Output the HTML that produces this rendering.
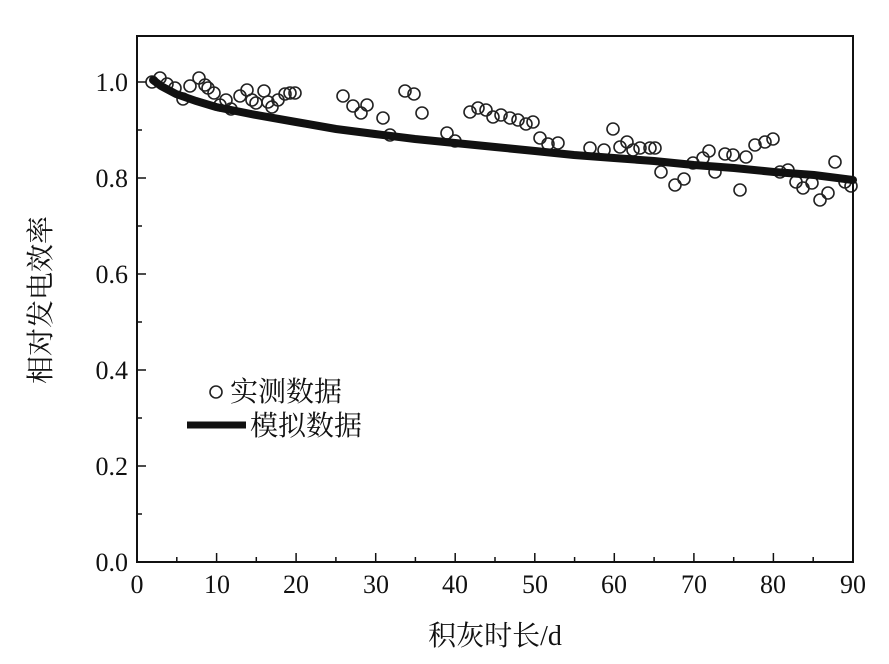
<!DOCTYPE html>
<html><head><meta charset="utf-8"><style>body{margin:0;background:#fff}</style></head><body>
<svg width="889" height="659" xmlns="http://www.w3.org/2000/svg" font-family="'Liberation Serif','Noto Serif CJK SC',serif">
<rect width="889" height="659" fill="#fff"/>
<g fill="none" stroke="#222" stroke-width="1.6">
<circle cx="152" cy="82" r="6"/><circle cx="160" cy="78" r="6"/><circle cx="167" cy="84" r="6"/><circle cx="175" cy="88" r="6"/><circle cx="183" cy="99" r="6"/><circle cx="190" cy="86" r="6"/><circle cx="199" cy="78" r="6"/><circle cx="205" cy="85" r="6"/><circle cx="208" cy="88" r="6"/><circle cx="214" cy="93" r="6"/><circle cx="220" cy="105" r="6"/><circle cx="231" cy="109" r="6"/><circle cx="226" cy="100" r="6"/><circle cx="240" cy="96" r="6"/><circle cx="247" cy="90" r="6"/><circle cx="252" cy="100" r="6"/><circle cx="256" cy="103" r="6"/><circle cx="264" cy="91" r="6"/><circle cx="268" cy="102" r="6"/><circle cx="272" cy="107" r="6"/><circle cx="278" cy="100" r="6"/><circle cx="285" cy="94" r="6"/><circle cx="290" cy="93" r="6"/><circle cx="295" cy="93" r="6"/><circle cx="343" cy="96" r="6"/><circle cx="353" cy="106" r="6"/><circle cx="361" cy="113" r="6"/><circle cx="367" cy="105" r="6"/><circle cx="383" cy="118" r="6"/><circle cx="390" cy="135" r="6"/><circle cx="405" cy="91" r="6"/><circle cx="414" cy="94" r="6"/><circle cx="422" cy="113" r="6"/><circle cx="447" cy="133" r="6"/><circle cx="455" cy="141" r="6"/><circle cx="470" cy="112" r="6"/><circle cx="478" cy="108" r="6"/><circle cx="486" cy="110" r="6"/><circle cx="493" cy="117" r="6"/><circle cx="501" cy="115" r="6"/><circle cx="510" cy="118" r="6"/><circle cx="518" cy="120" r="6"/><circle cx="526" cy="124" r="6"/><circle cx="533" cy="122" r="6"/><circle cx="540" cy="138" r="6"/><circle cx="548" cy="144" r="6"/><circle cx="558" cy="143" r="6"/><circle cx="590" cy="148" r="6"/><circle cx="604" cy="150" r="6"/><circle cx="613" cy="129" r="6"/><circle cx="620" cy="147" r="6"/><circle cx="627" cy="142" r="6"/><circle cx="633" cy="150" r="6"/><circle cx="640" cy="148" r="6"/><circle cx="650" cy="148" r="6"/><circle cx="655" cy="148" r="6"/><circle cx="661" cy="172" r="6"/><circle cx="675" cy="185" r="6"/><circle cx="684" cy="179" r="6"/><circle cx="693" cy="163" r="6"/><circle cx="703" cy="158" r="6"/><circle cx="709" cy="151" r="6"/><circle cx="715" cy="172" r="6"/><circle cx="725" cy="154" r="6"/><circle cx="740" cy="190" r="6"/><circle cx="733" cy="155" r="6"/><circle cx="746" cy="157" r="6"/><circle cx="755" cy="145" r="6"/><circle cx="765" cy="142" r="6"/><circle cx="773" cy="139" r="6"/><circle cx="780" cy="172" r="6"/><circle cx="788" cy="170" r="6"/><circle cx="796" cy="182" r="6"/><circle cx="803" cy="188" r="6"/><circle cx="812" cy="183" r="6"/><circle cx="820" cy="200" r="6"/><circle cx="828" cy="193" r="6"/><circle cx="835" cy="162" r="6"/><circle cx="845" cy="182" r="6"/><circle cx="851" cy="186" r="6"/>
</g>
<polyline fill="none" stroke="#111" stroke-width="8" stroke-linecap="round" points="153,80 161,86 176,94 196,101 216,107 256,115 296,122 336,129 375,134 415,139 455,143 495,147 535,151 574,155 614,158 654,161 694,165 734,168 774,172 814,175 853,180"/>
<rect x="137" y="36" width="716" height="526" fill="none" stroke="#111" stroke-width="2"/>
<g stroke="#111" stroke-width="1.5">
<line x1="176.8" y1="562" x2="176.8" y2="557"/><line x1="216.6" y1="562" x2="216.6" y2="553"/><line x1="256.3" y1="562" x2="256.3" y2="557"/><line x1="296.1" y1="562" x2="296.1" y2="553"/><line x1="335.9" y1="562" x2="335.9" y2="557"/><line x1="375.7" y1="562" x2="375.7" y2="553"/><line x1="415.4" y1="562" x2="415.4" y2="557"/><line x1="455.2" y1="562" x2="455.2" y2="553"/><line x1="495" y1="562" x2="495" y2="557"/><line x1="534.8" y1="562" x2="534.8" y2="553"/><line x1="574.6" y1="562" x2="574.6" y2="557"/><line x1="614.3" y1="562" x2="614.3" y2="553"/><line x1="654.1" y1="562" x2="654.1" y2="557"/><line x1="693.9" y1="562" x2="693.9" y2="553"/><line x1="733.7" y1="562" x2="733.7" y2="557"/><line x1="773.4" y1="562" x2="773.4" y2="553"/><line x1="813.2" y1="562" x2="813.2" y2="557"/>
<line x1="137" y1="514" x2="142" y2="514"/><line x1="137" y1="466" x2="146" y2="466"/><line x1="137" y1="418" x2="142" y2="418"/><line x1="137" y1="370" x2="146" y2="370"/><line x1="137" y1="322" x2="142" y2="322"/><line x1="137" y1="274" x2="146" y2="274"/><line x1="137" y1="226" x2="142" y2="226"/><line x1="137" y1="178" x2="146" y2="178"/><line x1="137" y1="130" x2="142" y2="130"/><line x1="137" y1="82" x2="146" y2="82"/>
</g>
<g font-size="26" fill="#111" text-anchor="end">
<text x="128" y="571">0.0</text><text x="128" y="475">0.2</text><text x="128" y="379">0.4</text><text x="128" y="283">0.6</text><text x="128" y="187">0.8</text><text x="128" y="91">1.0</text>
</g>
<g font-size="26" fill="#111" text-anchor="middle">
<text x="137" y="593">0</text><text x="217" y="593">10</text><text x="296" y="593">20</text><text x="376" y="593">30</text><text x="455" y="593">40</text><text x="535" y="593">50</text><text x="614" y="593">60</text><text x="694" y="593">70</text><text x="773" y="593">80</text><text x="853" y="593">90</text>
</g>
<text x="495" y="645" font-size="28" text-anchor="middle" fill="#111">积灰时长/d</text>
<text transform="translate(50,300) rotate(-90)" font-size="28" text-anchor="middle" fill="#111">相对发电效率</text>
<circle cx="216" cy="392" r="6" fill="none" stroke="#222" stroke-width="1.6"/>
<text x="230" y="401" font-size="28" fill="#111">实测数据</text>
<line x1="187" y1="425" x2="246" y2="425" stroke="#111" stroke-width="7"/>
<text x="250" y="435" font-size="28" fill="#111">模拟数据</text>
</svg>
</body></html>
